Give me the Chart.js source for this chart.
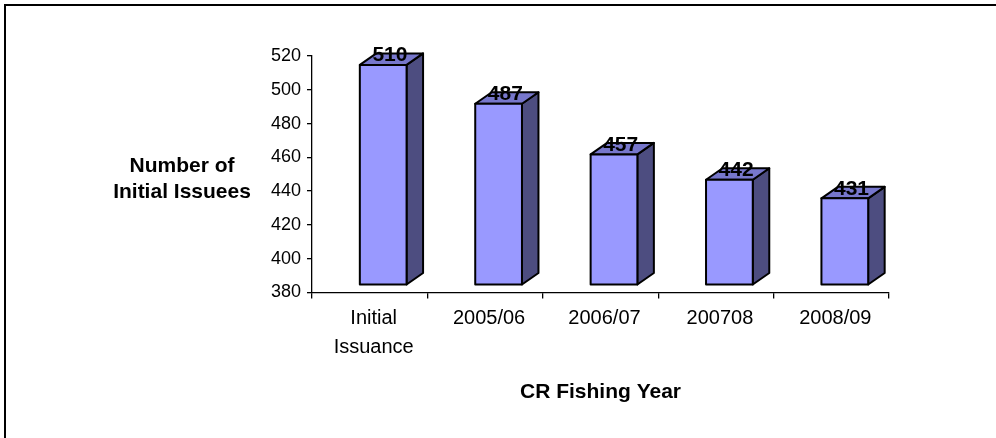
<!DOCTYPE html>
<html>
<head>
<meta charset="utf-8">
<script src="https://cdn.jsdelivr.net/npm/chart.js@4/dist/chart.umd.min.js"></script>
<style>
  html, body { margin: 0; padding: 0; background: #fff; }
  canvas { display: block; }
</style>
</head>
<body>
<canvas id="myChart" width="996" height="438"></canvas>
<script>
const categories = [['Initial', 'Issuance'], '2005/06', '2006/07', '200708', '2008/09'];
const issuees = [510, 487, 457, 442, 431];
const yMin = 380;
const yMax = 520;
const yStep = 20;
const yTitle = ['Number of', 'Initial Issuees'];
const xTitle = 'CR Fishing Year';

const fontFamily = '"Liberation Sans", Arial, sans-serif';

// fake 3D look: front face is shifted off the axis plane, then a depth offset for top/side
const front = { dx: 13.5, dy: -8 };
const depth = { dx: 16.5, dy: -11.5 };

const frame = {
    id: 'frame',
    beforeDraw: (chart) => {
        let ctx = chart.ctx;
        ctx.save();
        ctx.fillStyle = '#fff';
        ctx.fillRect(0, 0, chart.width, chart.height);
        ctx.strokeStyle = '#000';
        ctx.lineWidth = 2;
        ctx.strokeRect(5, 5, chart.width + 50, chart.height + 50);
        ctx.restore();
    }
};

const bars3d = {
    id: 'bars3d',
    afterDatasetsDraw: (chart) => {
        let ctx = chart.ctx;
        let meta = chart.getDatasetMeta(0);
        let basePx = chart.scales.y.getPixelForValue(yMin);
        ctx.save();
        ctx.lineWidth = 2;
        ctx.lineJoin = 'round';
        ctx.strokeStyle = '#000';
        meta.data.forEach((bar, i) => {
            let p = bar.getProps(['x', 'y', 'width'], true);
            let l = p.x - p.width / 2 + front.dx;
            let r = l + p.width;
            let t = p.y + front.dy;
            let b = basePx + front.dy;
            // side
            ctx.beginPath();
            ctx.moveTo(r, t);
            ctx.lineTo(r + depth.dx, t + depth.dy);
            ctx.lineTo(r + depth.dx, b + depth.dy);
            ctx.lineTo(r, b);
            ctx.closePath();
            ctx.fillStyle = '#4D4D80';
            ctx.fill();
            ctx.stroke();
            // top
            ctx.beginPath();
            ctx.moveTo(l, t);
            ctx.lineTo(l + depth.dx, t + depth.dy);
            ctx.lineTo(r + depth.dx, t + depth.dy);
            ctx.lineTo(r, t);
            ctx.closePath();
            ctx.fillStyle = '#7777CC';
            ctx.fill();
            ctx.stroke();
            // front
            ctx.fillStyle = '#9999FF';
            ctx.fillRect(l, t, p.width, b - t);
            ctx.strokeRect(l, t, p.width, b - t);
            // value label
            ctx.fillStyle = '#000';
            ctx.font = 'bold 21px ' + fontFamily;
            ctx.textAlign = 'center';
            ctx.textBaseline = 'alphabetic';
            ctx.fillText(String(issuees[i]), p.x + front.dx + 6.7, t - 3.5);
        });
        ctx.restore();
    }
};

const titles = {
    id: 'titles',
    afterDraw: (chart) => {
        let ctx = chart.ctx;
        let area = chart.chartArea;
        ctx.save();
        ctx.fillStyle = '#000';
        ctx.font = 'bold 21px ' + fontFamily;
        ctx.textAlign = 'center';
        ctx.textBaseline = 'middle';
        ctx.fillText(yTitle[0], 182, 166);
        ctx.fillText(yTitle[1], 182, 192);
        ctx.fillText(xTitle, (area.left + area.right) / 2, 392);
        ctx.restore();
    }
};

new Chart('myChart', {
    type: 'bar',
    data: {
        labels: categories,
        datasets: [{
            label: 'Number of Initial Issuees',
            data: issuees,
            backgroundColor: 'rgba(0,0,0,0)',
            borderWidth: 0,
            categoryPercentage: 1,
            barPercentage: 0.405
        }]
    },
    options: {
        responsive: false,
        animation: false,
        devicePixelRatio: 1,
        layout: { padding: { top: 56, right: 107, bottom: 0, left: 0 } },
        plugins: {
            legend: { display: false },
            tooltip: { enabled: false }
        },
        scales: {
            x: {
                afterFit: (scale) => { scale.height = 145.5; },
                grid: {
                    offset: true,
                    drawOnChartArea: false,
                    drawTicks: true,
                    tickLength: 6,
                    color: '#000',
                    lineWidth: 1.3
                },
                border: { color: '#000', width: 1.3 },
                ticks: {
                    color: '#000',
                    padding: 5,
                    labelOffset: 4,
                    maxRotation: 0,
                    autoSkip: false,
                    font: { family: fontFamily, size: 20, lineHeight: 1.45 }
                }
            },
            y: {
                min: yMin,
                max: yMax,
                afterFit: (scale) => { scale.width = 312; },
                grid: {
                    drawOnChartArea: false,
                    drawTicks: true,
                    tickLength: 5,
                    color: '#000',
                    lineWidth: 1.3
                },
                border: { color: '#000', width: 1.3 },
                ticks: {
                    stepSize: yStep,
                    color: '#000',
                    padding: 6,
                    font: { family: fontFamily, size: 18 }
                }
            }
        }
    },
    plugins: [frame, bars3d, titles]
});
</script>
</body>
</html>
